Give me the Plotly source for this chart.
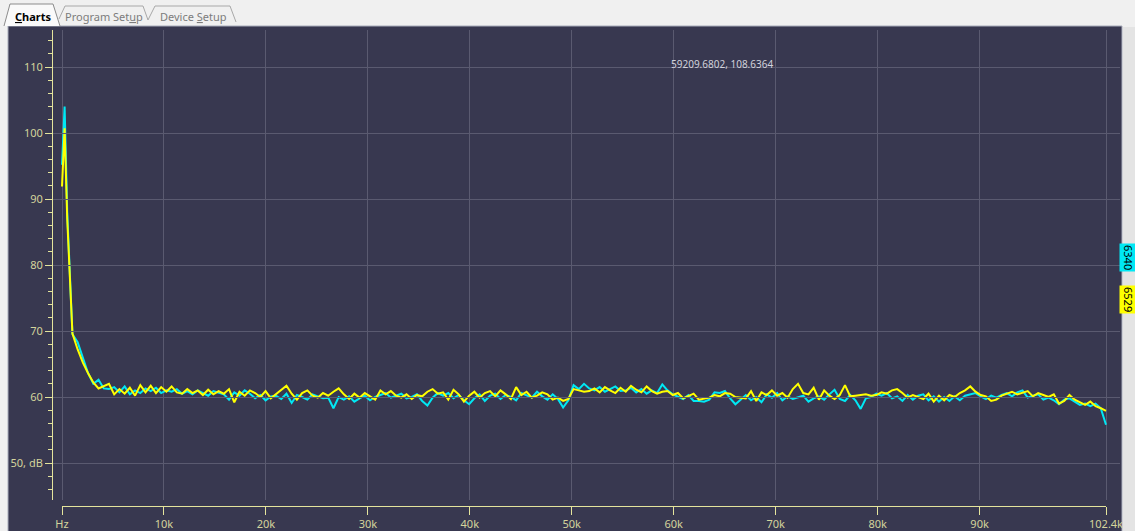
import plotly.graph_objects as go

# ---- spectrum data (dB) ----------------------------------------------------
freq_hz = [0, 256] + [512 * k for k in range(1, 201)]

ch_6340_db = [
    95.2, 104.0,
    88.0, 69.5, 68.3, 65.8, 63.6, 62.0, 62.6, 61.3, 61.2, 61.5,
    60.7, 61.6, 60.4, 61.0, 60.6, 61.3, 60.9, 61.4, 60.6, 61.0,
    60.8, 61.2, 60.5, 60.9, 60.4, 61.0, 60.6, 60.2, 60.9, 60.7,
    60.4, 59.6, 60.7, 60.2, 61.0, 60.5, 59.8, 60.3, 59.5, 60.1,
    60.2, 59.7, 60.5, 59.1, 60.3, 60.0, 59.6, 60.4, 60.1, 59.8,
    59.9, 58.3, 60.0, 59.6, 60.1, 59.3, 59.8, 60.2, 59.5, 60.0,
    60.3, 60.6, 59.9, 60.2, 60.5, 59.8, 60.0, 60.4, 59.4, 58.7,
    59.9, 60.6, 60.2, 60.6, 59.8, 60.3, 59.5, 58.9, 59.8, 60.4,
    59.4, 60.2, 60.5, 59.7, 60.3, 60.0, 59.5, 60.6, 60.2, 59.9,
    60.8, 60.1, 59.6, 60.4, 59.7, 58.4, 59.5, 61.8, 61.2, 62.0,
    61.3, 61.0, 61.5, 60.8, 61.2, 61.6, 60.9, 61.0, 61.4, 60.7,
    61.2, 60.5, 61.0, 60.6, 61.9, 61.0, 60.4, 60.1, 59.7, 60.3,
    59.4, 59.4, 59.3, 59.6, 60.7, 60.6, 60.9, 59.8, 58.9, 59.6,
    60.3, 59.5, 60.0, 59.2, 60.4, 59.9, 60.6, 59.5, 60.1, 59.7,
    59.9, 60.2, 59.3, 59.8, 60.1, 59.6, 60.4, 61.1, 59.7, 59.4,
    60.3, 59.5, 58.2, 59.8, 60.0, 60.5, 60.2, 60.6, 59.8, 60.1,
    59.4, 60.3, 59.6, 60.2, 60.4, 59.5, 60.1, 59.3, 60.0, 59.4,
    60.1, 59.5, 60.2, 60.4, 60.6, 60.1, 59.7, 60.2, 59.9, 60.3,
    60.6, 60.1, 60.7, 61.0, 59.9, 60.2, 60.4, 59.6, 59.9, 59.5,
    58.9, 59.6, 59.8, 59.3, 58.8, 59.0, 58.6, 59.0, 58.3, 55.8,
]

ch_6529_db = [
    91.9, 100.7,
    87.0, 69.6, 67.2, 65.2, 63.6, 62.2, 61.3, 61.6, 62.0, 60.4,
    61.2, 60.5, 61.4, 60.2, 61.8, 60.7, 61.7, 60.6, 61.5, 60.8,
    61.6, 60.7, 60.5, 61.2, 60.6, 61.0, 60.3, 61.1, 60.4, 60.9,
    60.5, 61.2, 59.2, 60.8, 60.2, 61.0, 60.6, 60.0, 60.9, 59.8,
    60.4, 61.0, 61.7, 60.5, 59.6, 60.6, 61.0, 60.2, 59.9, 60.6,
    60.2, 60.8, 61.3, 60.4, 59.7, 60.5, 59.9, 60.6, 60.1, 59.6,
    61.0, 60.4, 60.9, 60.2, 59.9, 60.4, 59.7, 60.3, 60.1, 60.8,
    61.2, 60.5, 60.7, 59.6, 61.1, 60.4, 59.3, 60.2, 60.8, 59.9,
    60.6, 60.9, 60.1, 61.0, 60.4, 59.7, 61.5, 60.3, 60.8, 59.9,
    60.2, 60.7, 60.4, 59.6, 59.9, 59.4, 59.7, 61.2, 61.0, 60.8,
    60.9, 61.3, 60.7, 61.5, 61.0, 60.6, 61.4, 60.8, 61.7, 61.1,
    60.7, 61.6, 60.9, 60.5, 60.8, 60.9, 60.3, 60.6, 59.8, 60.2,
    60.5, 59.6, 59.8, 59.9, 60.3, 60.1, 60.6, 60.5, 60.0, 59.9,
    59.8, 60.9, 59.4, 60.7, 60.3, 61.0, 60.2, 60.6, 59.9, 61.2,
    62.0, 60.6, 60.4, 61.4, 59.6, 61.0, 60.2, 59.7, 60.3, 61.8,
    60.1, 60.2, 60.3, 60.4, 60.2, 60.3, 60.7, 60.5, 61.0, 61.2,
    60.6, 59.9, 60.3, 60.0, 59.7, 60.5, 59.3, 60.2, 59.5, 60.3,
    60.0, 60.6, 61.0, 61.6, 60.8, 60.3, 60.1, 59.4, 59.6, 60.2,
    60.5, 60.8, 60.4, 60.6, 60.9, 60.1, 60.6, 60.3, 60.0, 60.4,
    59.0, 59.4, 60.3, 59.6, 59.2, 58.8, 59.3, 58.6, 58.3, 57.9,
]

series_names = ["6340", "6529"]
series_colors = ["#00e8f4", "#ffff00"]

x_tick_vals = [0, 10000, 20000, 30000, 40000, 50000, 60000, 70000, 80000, 90000, 102400]
x_tick_text = ["Hz", "10k", "20k", "30k", "40k", "50k", "60k", "70k", "80k", "90k", "102.4k"]
y_tick_vals = [50, 60, 70, 80, 90, 100, 110]
y_tick_text = ["50, dB", "60", "70", "80", "90", "100", "110"]

cursor_readout = (59209.6802, 108.6364)
UL = "<span style='text-decoration:underline'>{}</span>"
tab_labels = ["<b>" + UL.format("C") + "harts</b>",
              "Program Set" + UL.format("u") + "p",
              "Device " + UL.format("S") + "etup"]

# ---- page geometry ---------------------------------------------------------
FIG_W, FIG_H = 1135, 531
ML, MR, MT, MB = 53, 15, 30, 25
PW = FIG_W - ML - MR
PH = FIG_H - MT - MB

BG_DARK = "#383850"
GRID = "#5a5a70"
AXIS_COL = "#e4e49c"
TICK_FONT = "#d4d49c"
FONT = "Noto Sans"


def px(xp):
    return (xp - ML) / PW


def py(yp):
    return (FIG_H - MB - yp) / PH


def path(points):
    return "M " + " L ".join(f"{px(a):.5f},{py(b):.5f}" for a, b in points)


# frequency axis: 0 Hz at x=62 px, 102.4 kHz at x=1106 px
X0_PX, X1_PX = 62, 1106
hz_per_px = 102400 / (X1_PX - X0_PX)
x_range = [-(X0_PX - ML) * hz_per_px, 102400 + (FIG_W - MR - X1_PX) * hz_per_px]

# level axis: 60 dB at y=397 px, 6.6 px per dB, axis spans y=30..500 px
Y60_PX, PX_PER_DB = 397, 6.6
y_range = [60 - (500 - Y60_PX) / PX_PER_DB, 60 + (Y60_PX - MT) / PX_PER_DB]

fig = go.Figure()
for name, vals, col in zip(series_names, [ch_6340_db, ch_6529_db], series_colors):
    fig.add_trace(go.Scatter(
        x=freq_hz, y=vals, mode="lines", name=name,
        line=dict(color=col, width=2), showlegend=False, hoverinfo="skip",
    ))

# holder trace so the bracket-style frequency scale is drawn
fig.add_trace(go.Scatter(x=[0, 102400], y=[None, None], xaxis="x2", yaxis="y",
                         mode="lines", showlegend=False, hoverinfo="skip"))

shapes = [
    # instrument panel
    dict(type="rect", xref="paper", yref="paper",
         x0=px(8), x1=px(1122), y0=py(533), y1=py(26),
         fillcolor=BG_DARK, line=dict(color="#a8acba", width=1), layer="below"),
    # right side strip
    dict(type="rect", xref="paper", yref="paper",
         x0=px(1123), x1=px(1136), y0=py(533), y1=py(27),
         fillcolor="#e4e4e4", line=dict(width=0), layer="below"),
    # tabs
    dict(type="path", xref="paper", yref="paper",
         path=path([(4, 26), (10, 4), (53, 4), (60, 26)]),
         fillcolor="#fafafa", line=dict(color="#8c8c8c", width=1), layer="below"),
    dict(type="path", xref="paper", yref="paper",
         path=path([(59, 19), (65, 6), (143, 6), (148, 20)]),
         line=dict(color="#a8a8a8", width=1), layer="below"),
    dict(type="path", xref="paper", yref="paper",
         path=path([(148, 20), (155, 6), (230, 6), (236, 22)]),
         line=dict(color="#a8a8a8", width=1), layer="below"),
]

annotations = [
    dict(x=cursor_readout[0], y=cursor_readout[1], xref="x", yref="y",
         text=f"{cursor_readout[0]:.4f}, {cursor_readout[1]:.4f}",
         showarrow=False, xanchor="left", yanchor="bottom", xshift=3, yshift=3,
         font=dict(family=FONT, size=10, color="#d2d2dc")),
]
for lbl, col, yc in [(series_names[0], series_colors[0], 257), (series_names[1], series_colors[1], 299)]:
    annotations.append(dict(x=px(1129), y=py(yc), xref="paper", yref="paper", text=lbl,
                            showarrow=False, textangle=90, bgcolor=col, borderpad=1,
                            xanchor="center", yanchor="middle",
                            font=dict(family=FONT, size=11, color="#000000")))
for txt, xc, col in [(tab_labels[0], 33, "#000000"), (tab_labels[1], 104, "#7c7c7c"),
                     (tab_labels[2], 193, "#7c7c7c")]:
    annotations.append(dict(x=px(xc), y=py(16), xref="paper", yref="paper", text=txt,
                            showarrow=False, xanchor="center", yanchor="middle",
                            font=dict(family=FONT, size=11, color=col)))

fig.update_layout(
    width=FIG_W, height=FIG_H, autosize=False,
    margin=dict(l=ML, r=MR, t=MT, b=MB, pad=0, autoexpand=False),
    paper_bgcolor="#f0f0f0", plot_bgcolor="rgba(0,0,0,0)",
    font=dict(family=FONT, size=11, color=TICK_FONT),
    shapes=shapes, annotations=annotations,
    xaxis=dict(domain=[0, 1], range=x_range, tickmode="array", tickvals=x_tick_vals,
               showticklabels=False, ticks="", showgrid=True, gridcolor=GRID, gridwidth=1,
               zeroline=False, showline=False, fixedrange=True, automargin=False),
    xaxis2=dict(domain=[px(X0_PX), px(X1_PX)], range=[0, 102400], anchor="free", position=0,
                tickmode="array", tickvals=x_tick_vals, ticktext=x_tick_text,
                ticks="outside", ticklen=8, tickwidth=1, tickcolor=AXIS_COL,
                showline=True, linecolor=AXIS_COL, linewidth=1, showgrid=False, zeroline=False,
                tickfont=dict(family=FONT, size=11, color=TICK_FONT), fixedrange=True,
                automargin=False),
    yaxis=dict(domain=[py(500), 1], range=y_range, anchor="x",
               tickmode="array", tickvals=y_tick_vals, ticktext=y_tick_text,
               ticks="outside", ticklen=7, tickwidth=1, tickcolor=AXIS_COL,
               minor=dict(tick0=0, dtick=2, ticks="outside", ticklen=4, tickcolor=AXIS_COL,
                          showgrid=False),
               showline=True, linecolor=AXIS_COL, linewidth=1,
               showgrid=True, gridcolor=GRID, gridwidth=1, zeroline=False,
               tickfont=dict(family=FONT, size=11, color=TICK_FONT), fixedrange=True,
               automargin=False),
)

fig.write_html("out.html")
